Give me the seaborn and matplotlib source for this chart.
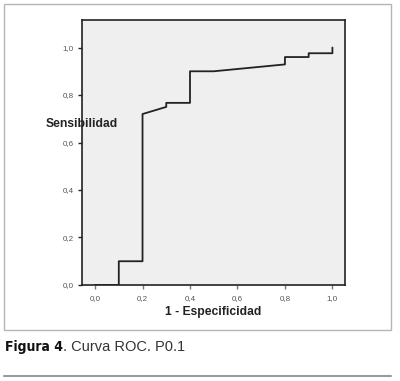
import matplotlib
matplotlib.use("Agg")
import matplotlib.pyplot as plt
import seaborn as sns
import pandas as pd
from matplotlib.patches import Rectangle
from matplotlib.lines import Line2D

# ROC curve points
fpr = [0.0, 0.1, 0.1, 0.2, 0.2, 0.3, 0.3, 0.4, 0.4, 0.5, 0.8, 0.8, 0.9, 0.9, 1.0, 1.0]
tpr = [0.0, 0.0, 0.1, 0.1, 0.72, 0.75, 0.767, 0.767, 0.90, 0.90, 0.929, 0.96, 0.96, 0.976, 0.976, 1.0]
x_ticks = [0.0, 0.2, 0.4, 0.6, 0.8, 1.0]
y_ticks = [0.0, 0.2, 0.4, 0.6, 0.8, 1.0]
tick_labels = ["0,0", "0,2", "0,4", "0,6", "0,8", "1,0"]

df = pd.DataFrame({"fpr": fpr, "tpr": tpr})

sns.set_style("white", {"xtick.bottom": True, "ytick.left": True})
plt.rcParams['font.family'] = ['Liberation Sans', 'DejaVu Sans']

fig = plt.figure(figsize=(4, 3.81), dpi=100)
ax = fig.add_axes([0.205, 0.252, 0.6575, 0.6955])
ax.set_facecolor("#efefef")

sns.lineplot(data=df, x="fpr", y="tpr", sort=False, estimator=None,
             color="#222222", linewidth=1.3, ax=ax)

ax.set_xlim(-0.055, 1.053)
ax.set_ylim(0, 1.116)
ax.set_xticks(x_ticks)
ax.set_xticklabels(tick_labels)
ax.set_yticks(y_ticks)
ax.set_yticklabels(tick_labels)
ax.tick_params(axis="both", length=3, width=1, color="#222222", labelsize=5.8,
               labelcolor="#555555", pad=3, direction="out",
               bottom=True, left=True)
ax.tick_params(axis="x", color="#777777", length=3, pad=4)
for s in ax.spines.values():
    s.set_color("#222222")
    s.set_linewidth(1.2)

ax.set_xlabel("1 - Especificidad", fontsize=8.7, fontweight="bold", color="#222222", labelpad=3)
ax.set_ylabel("")
ax.text(0.0, 0.607, "Sensibilidad", transform=ax.transAxes, ha="center", va="center",
        fontsize=8.7, fontweight="bold", color="#222222")

# outer frame and caption
fig.patches.append(Rectangle((0.01, 0.134), 0.9675, 0.8555, transform=fig.transFigure,
                             fill=False, edgecolor="#b5b5b5", linewidth=1.0))
fig.lines.append(Line2D([0.01, 0.9775], [0.013, 0.013], transform=fig.transFigure,
                        color="#9a9a9a", linewidth=1.5))

t1 = fig.text(0.013, 0.088, "Figura 4", ha="left", va="center", fontsize=10,
              fontweight="bold", fontstretch="condensed",
              family=["DejaVu Sans"], color="#111111")
fig.canvas.draw()
bb = t1.get_window_extent()
x_end = bb.x1 / fig.bbox.width
fig.text(x_end, 0.088, ". Curva ROC. P0.1", ha="left", va="center", fontsize=10.5,
         color="#333333")

fig.savefig("out.png", dpi=100)
